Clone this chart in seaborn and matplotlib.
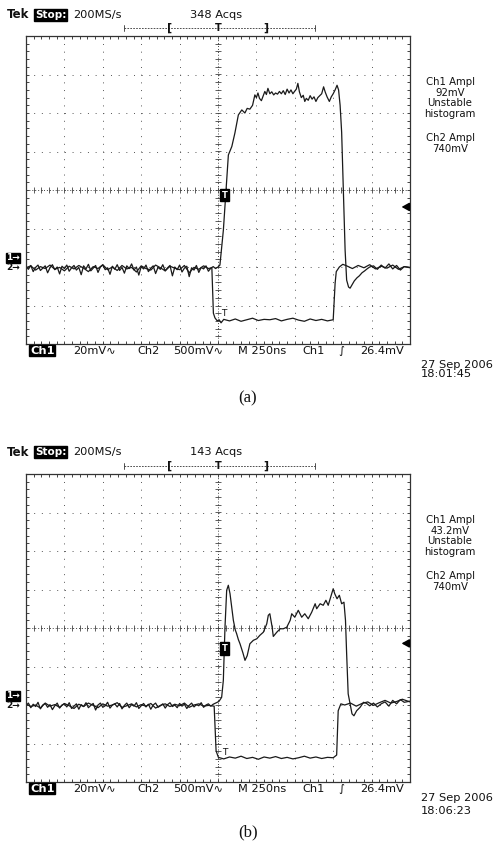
import numpy as np
import pandas as pd
import matplotlib
matplotlib.use("Agg")
import matplotlib.pyplot as plt
from matplotlib.ticker import MultipleLocator
import seaborn as sns

# ---------------- data (divisions) ----------------
NOISE_T_PRE = [-5.0, -4.875, -4.75, -4.625, -4.5, -4.375, -4.25, -4.125, -4.0, -3.875,
               -3.75, -3.625, -3.5, -3.375, -3.25, -3.125, -3.0, -2.875, -2.75, -2.625,
               -2.5, -2.375, -2.25, -2.125, -2.0, -1.875, -1.75, -1.625, -1.5, -1.375,
               -1.25, -1.125, -1.0, -0.875, -0.75, -0.625, -0.5, -0.375, -0.25, -0.125]
NOISE_T_FINE = [-5.0, -4.9375, -4.875, -4.8125, -4.75, -4.6875, -4.625, -4.5625, -4.5, -4.4375,
                -4.375, -4.3125, -4.25, -4.1875, -4.125, -4.0625, -4.0, -3.9375, -3.875, -3.8125,
                -3.75, -3.6875, -3.625, -3.5625, -3.5, -3.4375, -3.375, -3.3125, -3.25, -3.1875,
                -3.125, -3.0625, -3.0, -2.9375, -2.875, -2.8125, -2.75, -2.6875, -2.625, -2.5625,
                -2.5, -2.4375, -2.375, -2.3125, -2.25, -2.1875, -2.125, -2.0625, -2.0, -1.9375,
                -1.875, -1.8125, -1.75, -1.6875, -1.625, -1.5625, -1.5, -1.4375, -1.375, -1.3125,
                -1.25, -1.1875, -1.125, -1.0625, -1.0, -0.9375, -0.875, -0.8125, -0.75, -0.6875,
                -0.625, -0.5625, -0.5, -0.4375, -0.375, -0.3125, -0.25, -0.1875, -0.125, -0.0625]

# panel (a) channel 1
A_CH1_T = NOISE_T_FINE + [
    0.0, 0.05, 0.14, 0.21, 0.27, 0.36, 0.44, 0.53, 0.62, 0.70, 0.76, 0.83, 0.90, 0.96, 1.0,
    1.04, 1.08, 1.13, 1.18, 1.22, 1.26, 1.30, 1.35, 1.40, 1.45, 1.50, 1.55, 1.60, 1.65, 1.70,
    1.75, 1.80, 1.85, 1.90, 1.95, 2.00, 2.04, 2.08, 2.12, 2.17, 2.22, 2.26, 2.30, 2.35, 2.40,
    2.45, 2.50, 2.55, 2.60, 2.65, 2.70, 2.75, 2.79, 2.84, 2.90, 2.95, 3.0, 3.05, 3.10, 3.14,
    3.18, 3.22, 3.26, 3.31, 3.35, 3.40, 3.44, 3.48, 3.55, 3.62, 3.68, 3.75, 3.82, 3.88, 3.95,
    4.05, 4.15, 4.25, 4.35, 4.45, 4.55, 4.65, 4.75, 4.85, 5.0]
A_CH1_V = [
    -1.98, -2.06, -1.96, -2.12, -2.01, -1.95, -2.09, -2.03, -1.97, -2.15,
    -2.02, -1.94, -2.07, -2.00, -2.18, -1.98, -2.04, -1.95, -2.11, -2.02,
    -1.96, -2.08, -2.01, -2.20, -1.97, -2.05, -1.93, -2.10, -2.03, -1.96,
    -2.14, -2.00, -1.95, -2.07, -2.02, -2.19, -1.98, -2.06, -1.94, -2.09,
    -2.01, -2.16, -1.97, -2.04, -1.92, -2.08, -2.00, -2.21, -1.99, -2.05,
    -1.95, -2.12, -2.03, -1.97, -2.17, -2.01, -2.06, -1.94, -2.10, -2.02,
    -1.96, -2.23, -2.00, -2.07, -1.95, -2.13, -2.03, -1.98, -2.25, -2.02,
    -2.08, -1.96, -2.14, -2.01, -2.05, -1.97, -2.11, -2.03, -1.99, -2.04,
    -2.0, -1.95, -1.04, 0.0, 0.91, 1.13, 1.48, 1.95, 2.08, 2.0, 2.12, 2.1, 2.2, 2.47, 2.4,
    2.52, 2.38, 2.32, 2.45, 2.56, 2.48, 2.64, 2.5, 2.55, 2.47, 2.52, 2.49, 2.56, 2.5, 2.58,
    2.48, 2.62, 2.52, 2.6, 2.5, 2.57, 2.62, 2.77, 2.55, 2.4, 2.46, 2.3, 2.38, 2.33, 2.45,
    2.36, 2.42, 2.3, 2.4, 2.45, 2.5, 2.68, 2.55, 2.42, 2.3, 2.42, 2.5, 2.6, 2.72, 2.6,
    2.2, 1.5, 0.17, -1.56, -2.34, -2.52, -2.55, -2.48, -2.36, -2.28, -2.23, -2.15, -2.1, -2.05, -2.0,
    -1.97, -2.06, -1.95, -2.03, -1.92, -2.05, -1.96, -2.08, -1.99, -2.02]

# panel (a) channel 2
A_CH2_T = NOISE_T_PRE[:-1] + [
    -0.16, -0.12, -0.08, -0.02, 0.03, 0.08, 0.15, 0.3, 0.45, 0.6, 0.75, 0.9, 1.05, 1.2, 1.35,
    1.5, 1.65, 1.8, 1.95, 2.1, 2.25, 2.4, 2.55, 2.7, 2.85, 3.0, 3.05, 3.08, 3.16, 3.25, 3.35,
    3.5, 3.65, 3.8, 3.95, 4.1, 4.25, 4.4, 4.55, 4.7, 4.85, 5.0]
A_CH2_V = [
    -2.02, -1.97, -2.08, -1.99, -2.04, -1.95, -2.06, -2.01, -2.10, -1.98,
    -2.05, -1.96, -2.03, -2.12, -1.99, -2.04, -1.94, -2.07, -2.00, -2.09,
    -1.96, -2.05, -2.01, -2.13, -1.97, -2.04, -2.08, -1.95, -2.02, -2.10,
    -1.98, -2.03, -2.07, -1.96, -2.15, -2.01, -2.06, -1.97, -2.04,
    -2.02, -3.2, -3.32, -3.4, -3.37, -3.45, -3.36, -3.40, -3.35, -3.41, -3.37, -3.33, -3.39, -3.36,
    -3.37, -3.34, -3.40, -3.36, -3.33, -3.38, -3.41, -3.35, -3.39, -3.36, -3.40, -3.37, -2.42, -2.12, -2.0, -1.93, -1.97,
    -2.04, -1.96, -2.02, -1.94, -2.05, -1.98, -2.03, -1.95, -2.06, -1.99, -2.01]

# panel (b) channel 1
B_CH1_T = NOISE_T_FINE + [
    -0.02, 0.03, 0.095, 0.139, 0.182, 0.226, 0.269, 0.313, 0.40, 0.45, 0.486, 0.53, 0.573, 0.65, 0.703,
    0.76, 0.83, 0.92, 1.01, 1.09, 1.18, 1.27, 1.31, 1.35, 1.41, 1.44, 1.53, 1.62, 1.70, 1.79,
    1.88, 1.92, 2.00, 2.09, 2.18, 2.26, 2.35, 2.44, 2.53, 2.57, 2.66, 2.74, 2.81, 2.87, 2.95,
    3.00, 3.04, 3.10, 3.16, 3.22, 3.28, 3.32, 3.35, 3.39, 3.44, 3.49, 3.54, 3.61, 3.70, 3.79, 3.87,
    3.95, 4.05, 4.15, 4.25, 4.35, 4.45, 4.55, 4.65, 4.75, 4.85, 5.0]
B_CH1_V = [
    -2.01, -1.95, -2.07, -1.98, -2.04, -1.93, -2.10, -2.00, -1.96, -2.06,
    -1.99, -2.12, -2.02, -1.95, -2.08, -2.00, -1.97, -2.05, -1.94, -2.09,
    -2.03, -1.97, -2.11, -1.99, -2.04, -1.94, -2.07, -2.01, -1.96, -2.13,
    -2.00, -1.95, -2.06, -2.02, -1.93, -2.08, -2.00, -1.97, -2.05, -1.96,
    -2.10, -2.01, -1.95, -2.07, -1.99, -2.03, -1.94, -2.09, -2.02, -1.96,
    -2.05, -1.98, -2.11, -2.00, -1.95, -2.06, -2.02, -1.97, -2.08, -1.99,
    -1.94, -2.04, -2.00, -2.07, -1.96, -2.03, -1.98, -2.09, -2.01, -1.95,
    -2.05, -1.99, -2.02, -1.94, -2.06, -2.00, -1.97, -2.03, -1.98, -1.95,
    -1.93, -1.9, -1.8, -1.36, 0.02, 0.98, 1.11, 0.89, 0.2, -0.05, -0.15, -0.3, -0.41, -0.65, -0.84,
    -0.72, -0.41, -0.32, -0.28, -0.19, -0.11, 0.11, 0.33, 0.37, 0.02, -0.22, -0.11, -0.02, -0.02, 0.02,
    0.20, 0.37, 0.28, 0.46, 0.28, 0.37, 0.24, 0.41, 0.63, 0.50, 0.63, 0.59, 0.72, 0.59, 0.85,
    1.02, 0.89, 0.76, 0.85, 0.63, 0.67, 0.20, -0.67, -1.71, -1.97, -2.23, -2.28, -2.15, -2.06, -1.93, -1.96,
    -2.02, -1.95, -2.05, -1.97, -1.92, -2.03, -1.88, -1.97, -1.86, -1.93, -1.90]

# panel (b) channel 2
B_CH2_T = NOISE_T_PRE[:-1] + [
    -0.1, -0.05, 0.01, 0.15, 0.3, 0.45, 0.6, 0.75, 0.9, 1.05, 1.2, 1.35, 1.5, 1.65, 1.8,
    1.95, 2.1, 2.25, 2.4, 2.55, 2.7, 2.85, 3.0, 3.09, 3.13, 3.2, 3.3, 3.45, 3.6, 3.75, 3.9,
    4.05, 4.2, 4.35, 4.5, 4.65, 4.8, 5.0]
B_CH2_V = [
    -1.97, -2.04, -2.00, -2.08, -1.95, -2.03, -1.99, -2.06, -1.96, -2.02,
    -2.09, -1.98, -2.04, -1.95, -2.01, -2.07, -1.97, -2.03, -2.00, -1.94,
    -2.06, -2.02, -1.97, -2.05, -1.99, -2.03, -1.96, -2.08, -2.01, -1.97,
    -2.04, -1.98, -2.02, -1.95, -2.06, -2.00, -1.97, -2.03, -2.01,
    -2.03, -3.19, -3.36, -3.40, -3.35, -3.38, -3.33, -3.39, -3.36, -3.41, -3.35, -3.38, -3.34, -3.39, -3.36,
    -3.40, -3.37, -3.33, -3.38, -3.35, -3.39, -3.36, -3.37, -3.3, -2.15, -1.97, -2.0, -1.95,
    -2.03, -1.96, -1.92, -2.01, -1.94, -1.88, -1.95, -1.91, -1.85, -1.92]

PANELS = [
    dict(ch1=(A_CH1_T, A_CH1_V), ch2=(A_CH2_T, A_CH2_V), acqs="348 Acqs",
         ampl1="92mV", ampl2="740mV", date="27 Sep 2006", time="18:01:45", label="(a)",
         trig_box=(0.17, -0.13), trig_arrow=-0.44, t2=(0.16, -3.22)),
    dict(ch1=(B_CH1_T, B_CH1_V), ch2=(B_CH2_T, B_CH2_V), acqs="143 Acqs",
         ampl1="43.2mV", ampl2="740mV", date="27 Sep 2006", time="18:06:23", label="(b)",
         trig_box=(0.17, -0.53), trig_arrow=-0.40, t2=(0.17, -3.24)),
]
BOTTOM_LABELS = ["20mV\u223f", "Ch2", "500mV\u223f", "M 250ns", "Ch1", "\u222b", "26.4mV"]

# ---------------- layout (pixels) ----------------
W, H = 497, 848
sns.set_style("white")
plt.rcParams["font.family"] = ["DejaVu Sans"]
fig = plt.figure(figsize=(W / 100, H / 100), dpi=100)

BOX_L, BOX_R = 26, 410
TOPS = [36, 474]
BOTS = [344, 782]
OFFS = [0, 438]

ink = "#111111"
fs_row = 8.2

for p, top, bot, off in zip(PANELS, TOPS, BOTS, OFFS):
    ax = fig.add_axes([BOX_L / W, 1 - bot / H, (BOX_R - BOX_L) / W, (bot - top) / H])
    ax.set_xlim(-5, 5)
    ax.set_ylim(-4, 4)
    ax.xaxis.set_major_locator(MultipleLocator(1))
    ax.yaxis.set_major_locator(MultipleLocator(1))
    ax.xaxis.set_minor_locator(MultipleLocator(0.2))
    ax.yaxis.set_minor_locator(MultipleLocator(0.2))
    ax.tick_params(which="both", direction="in", length=2.5, width=0.7, color="#444",
                   top=True, right=True, bottom=True, left=True,
                   labelbottom=False, labelleft=False)
    ax.grid(True, which="major", color="#555", lw=0.7, linestyle=(0, (1, 6.9)))
    for s in ax.spines.values():
        s.set_color("#333")
        s.set_linewidth(0.9)
    # centre lines with cross ticks
    ax.axhline(0, color="#444", lw=0.7, linestyle=(0, (1, 2)))
    ax.axvline(0, color="#444", lw=0.7, linestyle=(0, (1, 2)))
    cross = np.arange(-5, 5.001, 0.2)
    ax.plot(cross, np.zeros_like(cross), ls="none", marker="|", ms=4, mew=0.6, color="#444")
    crossy = np.arange(-4, 4.001, 0.2)
    ax.plot(np.zeros_like(crossy), crossy, ls="none", marker="_", ms=4, mew=0.6, color="#444")

    for ch in ("ch2", "ch1"):
        t, v = p[ch]
        df = pd.DataFrame({"t": t, "v": v})
        sns.lineplot(data=df, x="t", y="v", ax=ax, estimator=None, sort=False,
                     color="#1a1a1a", lw=0.9)
    ax.set_xlabel("")
    ax.set_ylabel("")
    ax.set_xlim(-5, 5)
    ax.set_ylim(-4, 4)

    bx, by = p["trig_box"]
    ax.text(bx, by, "T", color="white", fontsize=6, fontweight="bold", ha="center", va="center",
            bbox=dict(boxstyle="square,pad=0.2", fc="black", ec="black"))
    ax.text(p["t2"][0], p["t2"][1], "T", color=ink, fontsize=6.5, ha="center", va="center")
    ya = p["trig_arrow"]
    ax.annotate("", xy=(4.78, ya), xytext=(4.98, ya),
                arrowprops=dict(arrowstyle="-|>,head_length=0.45,head_width=0.25",
                                color="black", lw=1.1, shrinkA=0, shrinkB=0))

# overlay in pixel coordinates
ov = fig.add_axes([0, 0, 1, 1])
ov.set_xlim(0, W)
ov.set_ylim(H, 0)
ov.axis("off")
ov.patch.set_alpha(0)

for p, top, bot, off in zip(PANELS, TOPS, BOTS, OFFS):
    hy = 15 if off == 0 else 452
    ov.text(7, hy, "Tek", fontsize=8.5, fontweight="bold", ha="left", va="center", color=ink)
    ov.text(35, hy, "Stop:", fontsize=7.5, fontweight="bold", color="white", ha="left", va="center",
            bbox=dict(boxstyle="square,pad=0.08", fc="black", ec="black"))
    ov.text(73, hy, "200MS/s", fontsize=fs_row, ha="left", va="center", color=ink)
    ov.text(216, hy, p["acqs"], fontsize=fs_row, ha="center", va="center", color=ink)
    by_ = top - 8
    ov.plot([124, 315], [by_, by_], color="#333", lw=0.6, linestyle=(0, (2, 1.5)))
    ov.plot([124, 124], [by_ - 3, by_ + 3], color="#333", lw=0.6)
    ov.plot([315, 315], [by_ - 3, by_ + 3], color="#333", lw=0.6)
    ov.text(170, by_, "[", fontsize=8, fontweight="bold", ha="center", va="center", color=ink)
    ov.text(218, by_, "T", fontsize=7, fontweight="bold", ha="center", va="center", color=ink)
    ov.text(266, by_, "]", fontsize=8, fontweight="bold", ha="center", va="center", color=ink)

    # right-hand measurements
    for dy, s in zip([46, 57, 67, 78, 102, 113],
                     ["Ch1 Ampl", p["ampl1"], "Unstable", "histogram", "Ch2 Ampl", p["ampl2"]]):
        ov.text(450, top + dy, s, fontsize=7.3, ha="center", va="center", color=ink)

    # channel markers on the left
    base_y = top + (bot - top) * 6 / 8
    ov.text(13, base_y - 9, "1\u2192", fontsize=6.5, fontweight="bold", color="white",
            ha="center", va="center",
            bbox=dict(boxstyle="square,pad=0.05", fc="black", ec="black"))
    ov.text(13, base_y + 1, "2\u2192", fontsize=6.5, fontweight="bold", color=ink,
            ha="center", va="center")

    # bottom status row
    ry = bot + 6.5
    ov.text(30, ry, "Ch1", fontsize=fs_row, fontweight="bold", color="white", ha="left", va="center",
            bbox=dict(boxstyle="square,pad=0.05", fc="black", ec="black"))
    for x, s in zip([73, 137, 173, 238, 302, 338, 360], BOTTOM_LABELS):
        ov.text(x, ry, s, fontsize=fs_row, ha="left", va="center", color=ink)
    ov.text(421, bot + (20.5 if off == 0 else 16), p["date"], fontsize=fs_row, ha="left",
            va="center", color=ink)
    ov.text(421, bot + (30 if off == 0 else 29), p["time"], fontsize=fs_row, ha="left",
            va="center", color=ink)
    ov.text(248, bot + (54 if off == 0 else 50), p["label"], fontsize=12,
            family="Liberation Serif", ha="center", va="center", color=ink)

fig.savefig("out.png", dpi=100)
